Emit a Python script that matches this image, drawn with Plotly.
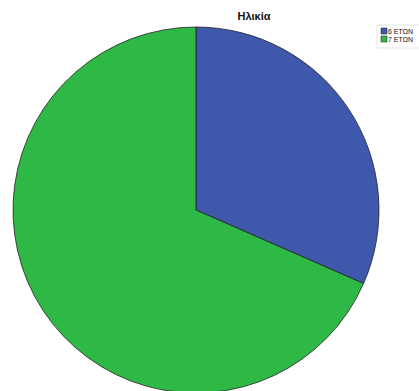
import plotly.graph_objects as go

labels = ["6 ΕΤΩΝ", "7 ΕΤΩΝ"]
values = [6, 13]
colors = ["#3E58AC", "#2EB846"]

W, H = 419, 400
L, R, T, B = 13, 40, 27, 7
PW, PH = W - L - R, H - T - B


def px(x):
    return (x - L) / PW


def py(y):
    return (H - B - y) / PH


fig = go.Figure(go.Pie(
    labels=labels, values=values, sort=False, direction="clockwise", rotation=0,
    marker=dict(colors=colors, line=dict(color="#222222", width=0.8)),
    textinfo="none", hoverinfo="label+value",
))

# compact legend drawn in the style of the original
fig.add_shape(type="rect", xref="paper", yref="paper",
              x0=px(377), x1=px(430), y0=py(48), y1=py(25),
              line=dict(color="#e4e4e4", width=1), fillcolor="rgba(0,0,0,0)")
for i, (lab, col) in enumerate(zip(labels, colors)):
    y0 = 28 + 8 * i
    fig.add_shape(type="rect", xref="paper", yref="paper",
                  x0=px(381), x1=px(387), y0=py(y0 + 6), y1=py(y0),
                  line=dict(color="#333", width=0.6), fillcolor=col)
    fig.add_annotation(text=lab, xref="paper", yref="paper",
                       x=px(387), y=py(y0 + 3), xanchor="left", yanchor="middle",
                       showarrow=False, borderpad=0,
                       font=dict(family="Arial, Liberation Sans, sans-serif", size=7, color="#111"))

fig.update_layout(
    width=W, height=H,
    margin=dict(l=L, r=R, t=T, b=B, autoexpand=False),
    paper_bgcolor="white", plot_bgcolor="white",
    title=dict(text="<b>Ηλικία</b>", x=254/419, xanchor="center", xref="container",
               y=1-16/H, yanchor="middle", yref="container",
               font=dict(family="Arial, Liberation Sans, sans-serif", size=11, color="#111")),
    showlegend=False,
)
fig.write_html("out.html", config={"displayModeBar": False},
               post_script="document.body.style.overflow='hidden';document.body.style.margin='0';")
